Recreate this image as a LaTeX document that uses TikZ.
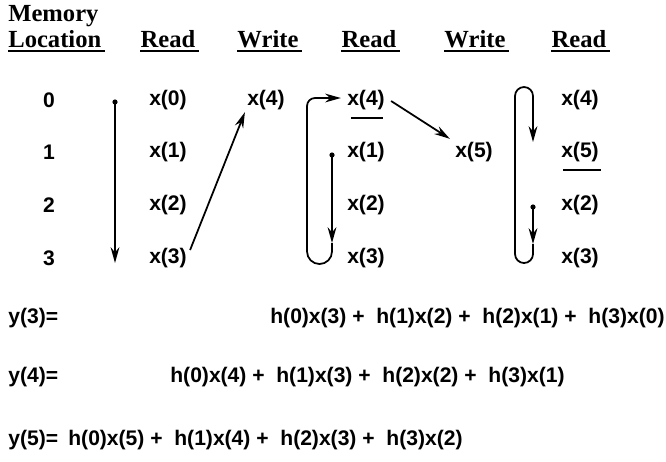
\documentclass[tikz,border=0pt]{standalone}
\usepackage{fontspec}
\setmainfont{Liberation Serif}
\newfontfamily\labfont{Liberation Sans}
\usepackage{tikz}
\usetikzlibrary{calc, arrows.meta}

\begin{document}
\begin{tikzpicture}[
    x=0.02cm, y=-0.02cm,
    hdr/.style={font=\fontsize{14}{16}\selectfont\bfseries, inner sep=0pt, anchor=base},
    cell/.style={font=\labfont\fontsize{12}{14}\selectfont\bfseries, inner sep=0pt},
    eqn/.style={cell, anchor=west},
    uline/.style={line width=1.1pt},
    bar/.style={line width=1.3pt},
    flow/.style={-{Stealth[length=9pt,width=5pt]}, line width=1pt},
    loopline/.style={line width=1pt},
  ]
    \useasboundingbox (0,0) rectangle (666,461);

    % column heads
    \node[hdr, anchor=base west] (hMem) at (8,21) {Memory};
    \node[hdr, anchor=base west] (hLoc) at (8,47) {Location};
    \node[hdr] (hRd1) at (168,47) {Read};
    \node[hdr] (hWr1) at (268,47) {Write};
    \node[hdr] (hRd2) at (369,47) {Read};
    \node[hdr] (hWr2) at (475,47) {Write};
    \node[hdr] (hRd3) at (579,47) {Read};
    \foreach \h in {hLoc, hRd1, hWr1, hRd2, hWr2, hRd3} {
      \draw[uline] ($(\h.base west)+(0,4)$) -- ($(\h.base east)+(3,4)$);
    }

    % memory locations and contents
    \foreach \r/\y in {0/100, 1/152, 2/205, 3/258} {
      \node[cell] (m\r) at (49,\y) {\r};
    }
    \foreach \i/\y in {0/100, 1/152, 2/205, 3/258} {
      \node[cell] (a\i) at (168,\y) {x(\i)};
    }
    \node[cell] (w4) at (266,100) {x(4)};
    \foreach \i/\y in {4/100, 1/152, 2/205, 3/258} {
      \node[cell] (b\i) at (366,\y) {x(\i)};
    }
    \node[cell] (w5) at (474,152) {x(5)};
    \foreach \i/\y in {4/100, 5/152, 2/205, 3/258} {
      \node[cell] (c\i) at (580,\y) {x(\i)};
    }

    % buffer start marks
    \draw[bar] ($(b4.south west)+(4,8)$) -- ($(b4.south east)+(-2,8)$);
    \draw[bar] ($(c5.south west)+(2,8)$) -- ($(c5.south east)+(2,8)$);

    % first read pass
    \coordinate (p1s) at (115,102);
    \coordinate (p1e) at (115,263);
    \fill (p1s) circle (2.6);
    \draw[flow] (p1s) -- (p1e);

    % write x(4)
    \draw[flow] ($(a3.east)+(3,-8)$) -- ($(w4.south west)+(-2,2)$);

    % second read pass
    \coordinate (p2s) at (332,155);
    \coordinate (p2m) at (332,243);
    \coordinate (p2t) at (318,98);
    \coordinate (p2e) at ($(b4.west)+(-6,-2)$);
    \fill (p2s) circle (2.6);
    \draw[flow] (p2s) -- (p2m);
    \draw[loopline] (p2m) -- (332,251.5) arc[start angle=0, end angle=180, radius=12.5]
      -- (307,106) arc[start angle=180, end angle=270, radius=8] -- (p2t);
    \draw[flow] (p2t) -- (p2e);

    % write x(5)
    \draw[flow] ($(b4.east)+(6,1)$) -- ($(w5.north west)+(-5,-3)$);

    % third read pass
    \coordinate (p3s) at (533,207);
    \coordinate (p3m) at (533,244);
    \coordinate (p3t) at (533,110);
    \coordinate (p3e) at (533,142);
    \fill (p3s) circle (2.6);
    \draw[flow] (p3s) -- (p3m);
    \draw[loopline] (p3m) -- (533,254) arc[start angle=0, end angle=180, radius=9]
      -- (515,96) arc[start angle=180, end angle=360, radius=9] -- (p3t);
    \draw[flow] (p3t) -- (p3e);

    % outputs
    \node[cell, anchor=west] (y3) at (8,318) {y(3)=};
    \node[eqn] (e3) at (270,318) {h(0)x(3) +\ \ h(1)x(2) +\ \ h(2)x(1) +\ \ h(3)x(0)};
    \node[cell, anchor=west] (y4) at (8,377) {y(4)=};
    \node[eqn] (e4) at (170,377) {h(0)x(4) +\ \ h(1)x(3) +\ \ h(2)x(2) +\ \ h(3)x(1)};
    \node[cell, anchor=west] (y5) at (8,440) {y(5)=};
    \node[eqn] (e5) at (68,440) {h(0)x(5) +\ \ h(1)x(4) +\ \ h(2)x(3) +\ \ h(3)x(2)};
\end{tikzpicture}
\end{document}
